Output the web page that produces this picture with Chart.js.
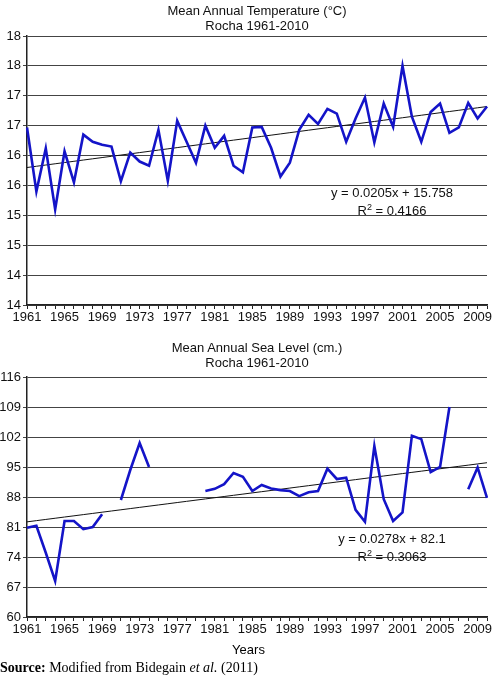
<!DOCTYPE html>
<html>
<head>
<meta charset="utf-8">
<script src="https://cdn.jsdelivr.net/npm/chart.js@4"></script>
<style>
  body { margin: 0; background: #fff; font-family: "Liberation Sans", Arial, sans-serif; }
  #wrap { position: relative; width: 497px; height: 678px; }
  .box { position: absolute; left: 0; width: 497px; height: 330px; }
  .title { position: absolute; left: 27px; width: 460px; text-align: center; font-size: 13px; line-height: 15px; color: #111; }
  .eq { position: absolute; width: 200px; text-align: center; font-size: 13px; line-height: 15px; color: #111; }
  #years { position: absolute; top: 642px; left: 0; width: 497px; text-align: center; font-size: 13px; }
  #src { position: absolute; top: 660px; left: 0; font-family: "Liberation Serif", serif; font-size: 14px; }
</style>
</head>
<body>
<div id="wrap">
  <div class="box" style="top:0"><canvas id="tempChart"></canvas></div>
  <div class="box" style="top:330px"><canvas id="seaChart"></canvas></div>
  <div class="title" style="top:3px">Mean Annual Temperature (°C)<br>Rocha 1961-2010</div>
  <div class="title" style="top:340px">Mean Annual Sea Level (cm.)<br>Rocha 1961-2010</div>
  <div class="eq" style="left:292px;top:185px">y = 0.0205x + 15.758<br>R<sup style="font-size:9px">2</sup> = 0.4166</div>
  <div class="eq" style="left:292px;top:531px">y = 0.0278x + 82.1<br>R<sup style="font-size:9px">2</sup> = 0.3063</div>
  <div id="years">Years</div>
  <div id="src"><b>Source:</b> Modified from Bidegain <i>et al.</i> (2011)</div>
</div>
<script>
// annees 1961-2010
var years = [];
for (var y = 1961; y <= 2010; y++) years.push(String(y));

// temperature moyenne annuelle
var temperature = [16.97, 15.9, 16.62, 15.6, 16.57, 16.05, 16.85, 16.73, 16.68, 16.65,
  16.07, 16.55, 16.4, 16.33, 16.93, 16.08, 17.08, 16.73, 16.38, 17.0,
  16.63, 16.83, 16.33, 16.22, 16.97, 16.98, 16.63, 16.15, 16.38, 16.93,
  17.18, 17.03, 17.28, 17.2, 16.73, 17.12, 17.47, 16.72, 17.37, 16.98,
  18.0, 17.15, 16.73, 17.23, 17.37, 16.88, 16.97, 17.38, 17.12, 17.32];
var tempTrend = [16.3, 17.32]; // debut, fin

// niveau de la mer (null = pas de donnee)
var seaLevel = [80.8, 81.3, 75.0, 68.4, 82.4, 82.4, 80.5, 81.0, 84.0, null,
  87.3, 94.3, 100.6, 95.0, null, null, null, null, null, 89.4,
  89.9, 91.0, 93.6, 92.7, 89.4, 90.8, 90.0, 89.6, 89.4, 88.2,
  89.1, 89.4, 94.6, 92.2, 92.5, 85.0, 82.2, 99.9, 87.5, 82.4,
  84.4, 102.3, 101.5, 93.8, 95.0, 109.0, null, 89.8, 94.9, 87.8];
var seaTrend = [82.2, 96.0];

var tempTicks = { min: 14, max: 18.5, step: 0.5 };
var seaTicks = { min: 60, max: 116, step: 7 };

function trendLine(ends) {
  var n = years.length - 1;
  return years.map(function(_, i) { return ends[0] + (ends[1] - ends[0]) * i / n; });
}

function makeChart(id, values, trend, tk, padTop, padBottom, fmt) {
  return new Chart(document.getElementById(id), {
    type: 'line',
    data: {
      labels: years,
      datasets: [{
        data: values,
        borderColor: '#1414c8',
        borderWidth: 2.6,
        pointRadius: 0,
        tension: 0,
        spanGaps: false
      }, {
        data: trendLine(trend),
        borderColor: '#111',
        borderWidth: 1,
        pointRadius: 0
      }]
    },
    options: {
      animation: false,
      responsive: true,
      maintainAspectRatio: false,
      layout: { padding: { top: padTop, bottom: padBottom, right: 10, left: 0 } },
      plugins: { legend: { display: false }, tooltip: { enabled: false } },
      scales: {
        x: {
          grid: { drawOnChartArea: false, color: '#222', tickLength: 4 },
          border: { color: '#222', width: 1.5 },
          ticks: {
            autoSkip: false, maxRotation: 0, padding: 1,
            color: '#111', font: { family: 'Liberation Sans', size: 13 },
            callback: function(v, i) { return i % 4 === 0 ? years[i] : ''; }
          },
          afterFit: function(s) { s.height = 22; }
        },
        y: {
          min: tk.min, max: tk.max,
          grid: { color: '#444', lineWidth: 1, tickLength: 4 },
          border: { color: '#222', width: 1.5 },
          ticks: {
            stepSize: tk.step, padding: 2,
            color: '#111', font: { family: 'Liberation Sans', size: 13 },
            callback: fmt
          },
          afterFit: function(s) { s.width = 27; }
        }
      }
    }
  });
}

makeChart('tempChart', temperature, tempTrend, tempTicks, 36, 3, function(v) { return Math.floor(v); });
makeChart('seaChart', seaLevel, seaTrend, seaTicks, 47, 21, function(v) { return v; });
</script>
</body>
</html>
